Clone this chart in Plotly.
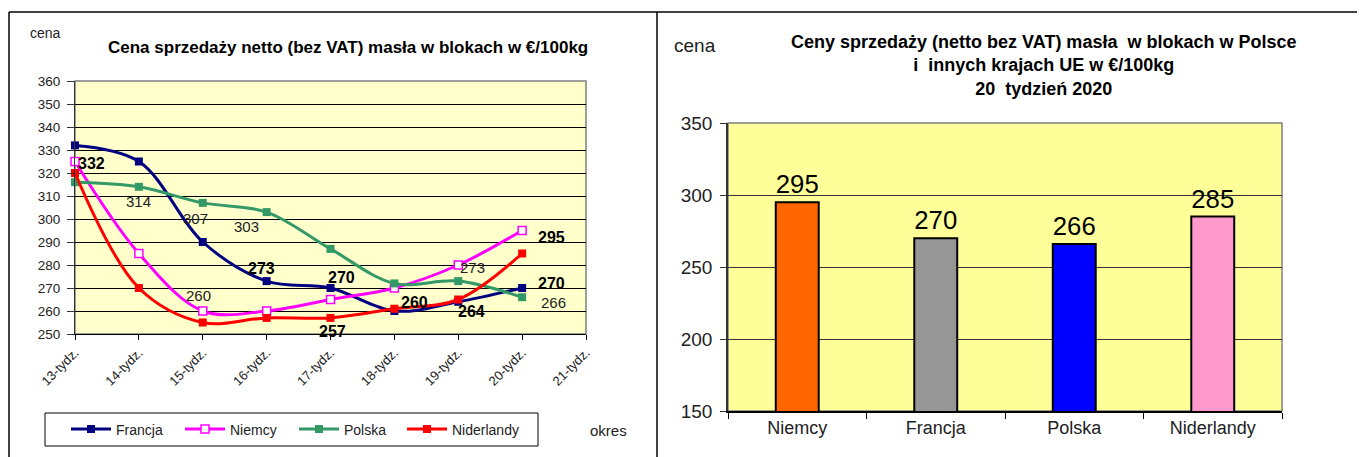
import plotly.graph_objects as go

# ---------------- data ----------------
weeks = ["13-tydz.", "14-tydz.", "15-tydz.", "16-tydz.", "17-tydz.",
         "18-tydz.", "19-tydz.", "20-tydz.", "21-tydz."]
francja = [332, 325, 290, 273, 270, 260, 264, 270]
niemcy = [325, 285, 260, 260, 265, 270, 280, 295]
polska = [316, 314, 307, 303, 287, 272, 273, 266]
niderlandy = [320, 270, 255, 257, 257, 261, 265, 285]

bar_countries = ["Niemcy", "Francja", "Polska", "Niderlandy"]
bar_values = [295, 270, 266, 285]

left_title = "Cena sprzedaży netto (bez VAT) masła w blokach w €/100kg"
right_title = ("Ceny sprzedaży (netto bez VAT) masła  w blokach w Polsce<br>"
               "i  innych krajach UE w €/100kg<br>20  tydzień 2020")

W, H = 1365, 457
OFF = 8  # the page body margin shifts the figure by 8 px
FONT = "Liberation Sans, Arial, sans-serif"


def px(x):
    return (x - OFF) / W


def py(y):
    return 1 - (y - OFF) / H


series = [
    ("Francja", francja, "#000080", dict(symbol="square", size=8, color="#000080")),
    ("Niemcy", niemcy, "#FF00FF", dict(symbol="square", size=8, color="white",
                                       line=dict(color="#FF00FF", width=1.5))),
    ("Polska", polska, "#339966", dict(symbol="square", size=8, color="#339966")),
    ("Niderlandy", niderlandy, "#FF0000", dict(symbol="square", size=8, color="#FF0000")),
]
legend_ids = ["legend", "legend2", "legend3", "legend4"]
legend_x = [66, 180, 294, 402]

fig = go.Figure()
for (name, vals, color, mk), lid in zip(series, legend_ids):
    fig.add_trace(go.Scatter(
        x=weeks[:len(vals)], y=vals, name=name, mode="lines+markers",
        line=dict(color=color, width=3, shape="spline", smoothing=1),
        marker=mk, xaxis="x", yaxis="y", cliponaxis=False, legend=lid))

fig.add_trace(go.Bar(
    x=bar_countries, y=bar_values, xaxis="x2", yaxis="y2", showlegend=False,
    marker=dict(color=["#FF6600", "#969696", "#0000FF", "#FF99CC"],
                line=dict(color="black", width=2)),
    width=0.31, text=[str(v) for v in bar_values], textposition="outside",
    textfont=dict(family=FONT, size=27, color="black"), cliponaxis=False))

# data labels on the line chart: (series index, point index, dx, dy, bold)
label_specs = [
    (0, 0, 16, -18, True),
    (2, 1, 0, -15, False),
    (2, 2, -7, -16, False),
    (2, 3, -20, -14, False),
    (0, 3, -5, 13, True),
    (0, 4, 11, 11, True),
    (1, 2, -4, 16, False),
    (3, 4, 2, -14, True),
    (0, 5, 20, 9, True),
    (2, 6, 14, 14, False),
    (0, 6, 13, -10, True),
    (1, 7, 29, -7, True),
    (0, 7, 29, 5, True),
    (2, 7, 31, -5, False),
]

annotations = []
for si, pi, dx, dy, bold in label_specs:
    vals = series[si][1]
    v = vals[pi]
    annotations.append(dict(
        x=weeks[pi], y=v, xref="x", yref="y", text=(f"<b>{v}</b>" if bold else str(v)),
        showarrow=False, xshift=dx, yshift=dy, xanchor="center", yanchor="middle",
        font=dict(family=FONT, size=16 if bold else 15, color="black" if bold else "#222222")))


def note(x, y, text, size, color="#222222"):
    return dict(x=px(x), y=py(y), xref="paper", yref="paper", text=text,
                showarrow=False, xanchor="center", yanchor="middle",
                font=dict(family=FONT, size=size, color=color))


annotations += [
    note(348, 47, f"<b>{left_title}</b>", 17, "black"),
    note(45, 33, "cena", 14),
    note(608, 430, "okres", 15),
    note(1043, 66, f"<b>{right_title}</b>", 18, "black"),
    note(695, 45, "cena", 19),
]

shapes = [
    # plot backgrounds
    dict(type="rect", xref="x domain", yref="y domain", x0=0, x1=1, y0=0, y1=1,
         fillcolor="#FFFFCC", line=dict(color="#808080", width=1.5), layer="below"),
    dict(type="rect", xref="x2 domain", yref="y2 domain", x0=0, x1=1, y0=0, y1=1,
         fillcolor="#FFFF99", line=dict(color="#808080", width=1.5), layer="below"),
    # legend box
    dict(type="rect", xref="paper", yref="paper", x0=px(45), x1=px(538), y0=py(446), y1=py(413),
         fillcolor="white", line=dict(color="black", width=1), layer="below"),
    # page frame lines
    dict(type="line", xref="paper", yref="paper", x0=px(9), x1=1, y0=py(12), y1=py(12),
         line=dict(color="black", width=1.5)),
    dict(type="line", xref="paper", yref="paper", x0=px(9), x1=px(9), y0=py(12), y1=0,
         line=dict(color="black", width=1.5)),
    dict(type="line", xref="paper", yref="paper", x0=px(657), x1=px(657), y0=py(12), y1=0,
         line=dict(color="black", width=1.5)),
]

axis_font = dict(family=FONT, color="#222222")

legends = {}
for lid, lx in zip(legend_ids, legend_x):
    legends[lid] = dict(orientation="h", x=px(lx), y=py(429.5), xanchor="left",
                        yanchor="middle", borderwidth=0, bgcolor="rgba(0,0,0,0)",
                        font=dict(family=FONT, size=14, color="#222222"), itemwidth=40)

fig.update_layout(
    width=W, height=H, margin=dict(l=0, r=0, t=0, b=0, autoexpand=False),
    paper_bgcolor="white", plot_bgcolor="rgba(0,0,0,0)",
    font=dict(family=FONT, color="black"),
    xaxis=dict(domain=[px(75), px(586)], anchor="y", type="category", automargin=False,
               categoryorder="array", categoryarray=weeks, range=[0, 8],
               showgrid=False, zeroline=False, showline=True, linecolor="black", linewidth=1,
               ticks="outside", ticklen=5, tickcolor="black", tickangle=-45,
               tickfont=dict(size=13, **axis_font)),
    yaxis=dict(domain=[py(334), py(81)], anchor="x", range=[250, 360], dtick=10,
               automargin=False,
               showgrid=True, gridcolor="black", gridwidth=1, zeroline=False,
               showline=True, linecolor="#333333", linewidth=1,
               ticks="outside", ticklen=7, tickcolor="#333333", ticklabelstandoff=4,
               tickfont=dict(size=13.5, **axis_font)),
    xaxis2=dict(domain=[px(728), px(1282)], anchor="y2", type="category", automargin=False,
                range=[-0.5, 3.5], showgrid=False, zeroline=False, showline=True,
                linecolor="black", linewidth=1.5, ticks="outside", ticklen=6,
                tickson="boundaries", tickcolor="black",
                tickfont=dict(size=18, **axis_font)),
    yaxis2=dict(domain=[py(411), py(123)], anchor="x2", range=[150, 350], dtick=50,
                automargin=False,
                showgrid=True, gridcolor="#333333", gridwidth=1, zeroline=False,
                showline=True, linecolor="#333333", linewidth=1.5,
                ticks="outside", ticklen=6, tickcolor="#333333", ticklabelstandoff=4,
                tickfont=dict(size=19, **axis_font)),
    annotations=annotations, shapes=shapes,
    **legends,
)

fig.write_html("out.html")
